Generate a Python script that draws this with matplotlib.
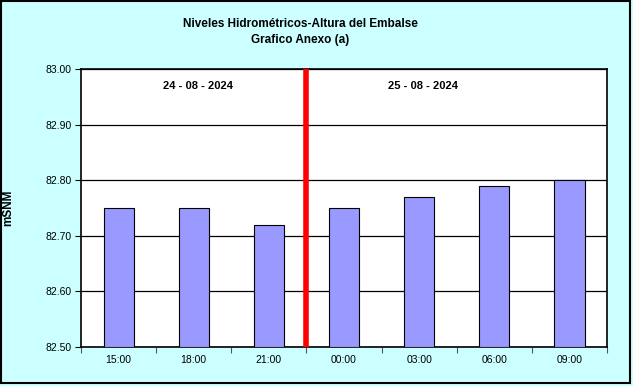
import matplotlib
matplotlib.use("Agg")
import matplotlib.pyplot as plt
import numpy as np

# datos
horas = ["15:00", "18:00", "21:00", "00:00", "03:00", "06:00", "09:00"]
niveles = [82.75, 82.75, 82.72, 82.75, 82.77, 82.79, 82.80]
fechas = ["24 - 08 - 2024", "25 - 08 - 2024"]
fecha_x = [1.05, 4.05]
corte_dia = 2.5
y_ticks = [82.50, 82.60, 82.70, 82.80, 82.90, 83.00]

plt.rcParams['font.family'] = ['Liberation Sans', 'DejaVu Sans']

fig = plt.figure(figsize=(6.33, 3.86), dpi=100)
fig.patch.set_facecolor("#CCFFFF")
# borde del grafico
fig.patches.append(plt.Rectangle((0.002, 0.008), 0.994, 0.99, transform=fig.transFigure,
                                 fill=False, edgecolor="black", linewidth=1.5))
ax = fig.add_axes([0.128, 0.101, 0.831, 0.72])
ax.set_facecolor("white")

x = np.arange(len(horas))
ax.bar(x, [v - 82.5 for v in niveles], bottom=82.5, width=0.4,
       color="#9999FF", edgecolor="black", linewidth=0.8, zorder=3)

ax.set_ylim(82.5, 83.0)
ax.set_xlim(-0.5, len(horas) - 0.5)
ax.set_yticks(y_ticks)
ax.set_yticklabels([f"{v:.2f}" for v in y_ticks], fontsize=7.5)
ax.yaxis.grid(True, color="black", linewidth=0.9, zorder=1)

# marcas en los bordes de categoria, etiquetas al centro
ax.set_xticks(np.arange(-0.5, len(horas), 1.0))
ax.set_xticklabels([])
ax.set_xticks(x, minor=True)
ax.set_xticklabels(horas, minor=True, fontsize=7.5)
ax.tick_params(axis="x", which="minor", length=0, pad=6)
ax.tick_params(axis="x", which="major", length=4, direction="out", color="#555555")
ax.tick_params(axis="y", length=4, direction="out", pad=3)

for s in ax.spines.values():
    s.set_linewidth(1.2)
    s.set_color("black")

ax.axvline(corte_dia, color="red", linewidth=4, zorder=4)

for fx, f in zip(fecha_x, fechas):
    ax.text(fx, 82.97, f, ha="center", va="center", fontsize=8, fontweight="bold")

ax.set_ylabel("mSNM", fontsize=8.5, fontweight="bold", labelpad=22)

fig.text(0.474, 0.938, "Niveles Hidrométricos-Altura del Embalse", ha="center", va="center",
         fontsize=8.5, fontweight="bold")
fig.text(0.474, 0.897, "Grafico Anexo (a)", ha="center", va="center",
         fontsize=8.5, fontweight="bold")

fig.savefig("out.png", dpi=100, facecolor=fig.get_facecolor())
